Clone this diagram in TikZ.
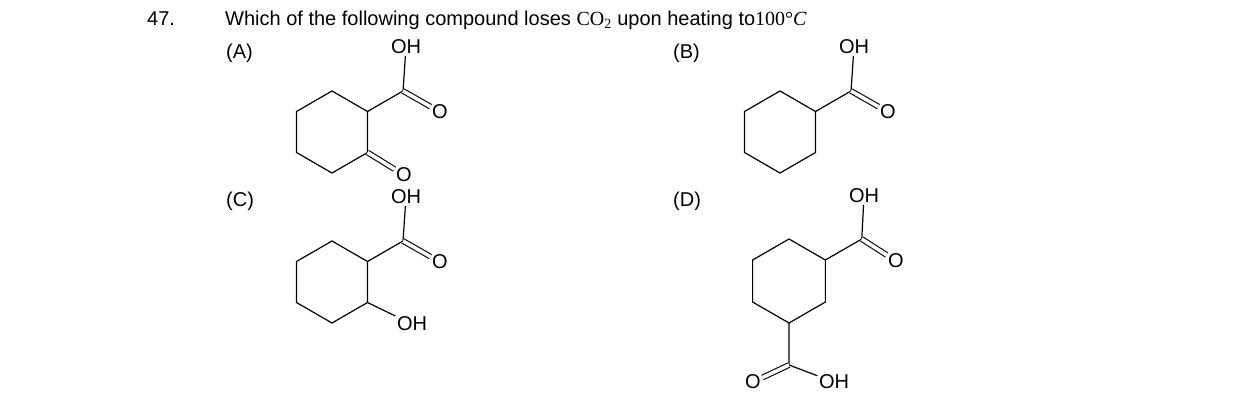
\documentclass[tikz,border=0pt]{standalone}
\usepackage{fontspec}
\setmainfont{Liberation Sans}
\newfontfamily\timesfont{Liberation Serif}
\usetikzlibrary{calc}
\tikzset{
  bond/.style={line width=1.2pt},
  dbl/.style={line width=1.1pt,double,double distance=3.6pt},
  atom/.style={inner sep=1.5pt,font=\fontsize{20}{24}\selectfont},
  txt/.style={inner sep=0pt,anchor=base west,font=\fontsize{20}{24}\selectfont}
}
% six ring corners #1-1 ... #1-6 around centre #2
\newcommand\ringat[3]{%
  \foreach \k/\a in {1/-90,2/-30,3/30,4/90,5/150,6/210}
    \coordinate (#1-\k) at ($(#2)+(\a:#3)$);
  \draw[bond] (#1-1) -- (#1-2) -- (#1-3) -- (#1-4) -- (#1-5) -- (#1-6) -- cycle;}
\begin{document}
\begin{tikzpicture}[x=1pt,y=-1pt]
  \useasboundingbox (0,0) rectangle (1238,418);
  % question
  \node[txt] (num) at (147,25) {47.};
  \node[txt] (q) at (225,25) {Which of the following compound loses
    {\timesfont CO\textsubscript{2}} upon heating to{\timesfont 100°\textit{C}}};
  \node[txt] (la) at (226,58) {(A)};
  \node[txt] (lb) at (673,58) {(B)};
  \node[txt] (lc) at (226,206) {(C)};
  \node[txt] (ld) at (673,206) {(D)};
  % (A)
  \coordinate (cA) at (332,132);
  \ringat{A}{cA}{41}
  \coordinate (A-c) at ($(A-2)+(-30:41)$);
  \node[atom] (A-oh) at (406,47) {OH};
  \node[atom] (A-o) at (440,112) {O};
  \node[atom] (A-k) at (404,175) {O};
  \draw[bond] (A-2) -- (A-c) -- (A-oh);
  \draw[dbl] (A-c) -- (A-o);
  \draw[dbl] (A-3) -- (A-k);
  % (B)
  \coordinate (cB) at (780,132);
  \ringat{B}{cB}{41}
  \coordinate (B-c) at ($(B-2)+(-30:41)$);
  \node[atom] (B-oh) at (854,47) {OH};
  \node[atom] (B-o) at (888,112) {O};
  \draw[bond] (B-2) -- (B-c) -- (B-oh);
  \draw[dbl] (B-c) -- (B-o);
  % (C)
  \coordinate (cC) at (332,282);
  \ringat{C}{cC}{41}
  \coordinate (C-c) at ($(C-2)+(-30:41)$);
  \node[atom] (C-oh) at (406,197) {OH};
  \node[atom] (C-o) at (440,262) {O};
  \node[atom] (C-oh2) at (412,324) {OH};
  \draw[bond] (C-2) -- (C-c) -- (C-oh);
  \draw[dbl] (C-c) -- (C-o);
  \draw[bond] (C-3) -- (C-oh2);
  % (D)
  \coordinate (cD) at (789,281);
  \ringat{D}{cD}{42}
  \coordinate (D-c) at ($(D-2)+(-30:42)$);
  \node[atom] (D-oh) at (864,196) {OH};
  \node[atom] (D-o) at (896,261) {O};
  \draw[bond] (D-2) -- (D-c) -- (D-oh);
  \draw[dbl] (D-c) -- (D-o);
  \coordinate (D-c2) at ($(D-4)+(90:42)$);
  \node[atom] (D-o2) at (753,382) {O};
  \node[atom] (D-oh2) at (834,382) {OH};
  \draw[bond] (D-4) -- (D-c2) -- (D-oh2);
  \draw[dbl] (D-c2) -- (D-o2);
\end{tikzpicture}
\end{document}
